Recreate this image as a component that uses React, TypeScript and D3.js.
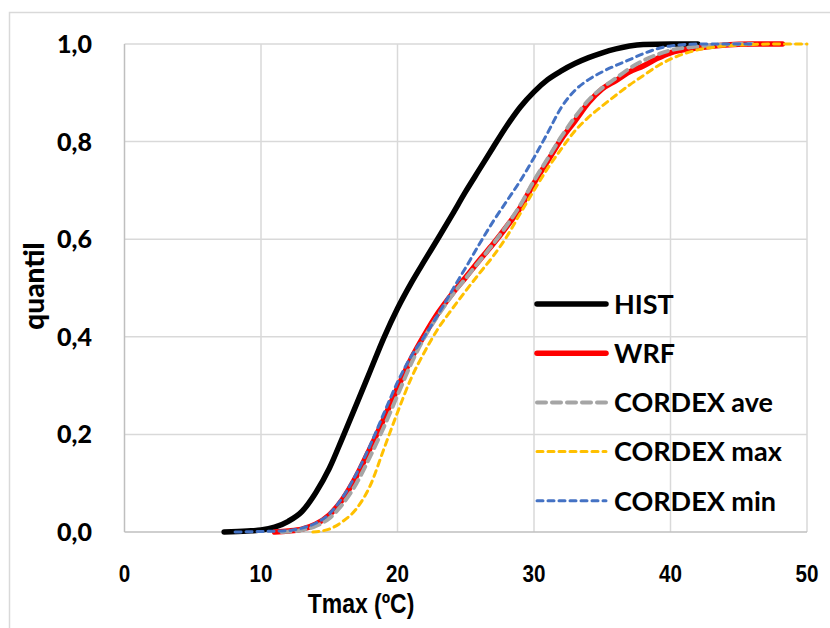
import React, { useEffect, useRef } from "react";
import * as d3 from "d3";

const xTicks = [0, 10, 20, 30, 40, 50];
const yTicks = [0, 0.2, 0.4, 0.6, 0.8, 1.0];

const histT = [7.3, 9, 10, 11, 12, 13, 14, 15, 16, 17, 18, 19, 20, 21, 22, 23, 24, 25, 26, 27, 28, 29, 30, 31, 32, 33, 34, 35, 36, 37, 38, 40, 42];
const histQ = [0, 0.002, 0.004, 0.01, 0.022, 0.042, 0.08, 0.13, 0.195, 0.262, 0.33, 0.398, 0.458, 0.51, 0.557, 0.603, 0.65, 0.698, 0.743, 0.788, 0.832, 0.871, 0.902, 0.927, 0.945, 0.96, 0.972, 0.982, 0.99, 0.996, 0.999, 1, 1];

const wrfT = [11, 12, 13, 14, 15, 16, 17, 18, 19, 20, 21, 22, 23, 24, 25, 26, 27, 28, 29, 30, 31, 32, 33, 34, 35, 36, 37, 38, 39, 40, 42, 44, 46, 48.2];
const wrfQ = [0, 0.002, 0.006, 0.016, 0.035, 0.068, 0.115, 0.172, 0.232, 0.295, 0.355, 0.405, 0.45, 0.488, 0.522, 0.557, 0.59, 0.626, 0.665, 0.715, 0.76, 0.805, 0.842, 0.88, 0.908, 0.925, 0.943, 0.955, 0.97, 0.982, 0.992, 0.998, 1, 1];

const aveT = [11.5, 13, 14, 15, 16, 17, 18, 19, 20, 21, 22, 23, 24, 25, 26, 27, 28, 29, 30, 31, 32, 33, 34, 35, 36, 37, 38, 39, 40, 42, 44, 46];
const aveQ = [0, 0.004, 0.012, 0.028, 0.058, 0.1, 0.155, 0.215, 0.28, 0.345, 0.4, 0.445, 0.485, 0.52, 0.555, 0.59, 0.628, 0.67, 0.72, 0.765, 0.81, 0.85, 0.885, 0.91, 0.93, 0.95, 0.966, 0.978, 0.987, 0.995, 0.999, 1];

const maxT = [13.8, 15, 16, 17, 18, 19, 20, 21, 22, 23, 24, 25, 26, 27, 28, 29, 30, 31, 32, 33, 34, 35, 36, 37, 38, 39, 40, 41, 42, 44, 46, 48, 50];
const maxQ = [0, 0.006, 0.022, 0.048, 0.095, 0.17, 0.245, 0.315, 0.37, 0.418, 0.457, 0.494, 0.53, 0.565, 0.605, 0.653, 0.7, 0.745, 0.785, 0.822, 0.85, 0.873, 0.895, 0.916, 0.935, 0.954, 0.969, 0.98, 0.988, 0.996, 0.999, 1, 1];

const minT = [8.1, 10, 12, 13, 14, 15, 16, 17, 18, 19, 20, 21, 22, 23, 24, 25, 26, 27, 28, 29, 30, 31, 32, 33, 34, 35, 36, 37, 38, 39, 40, 42, 46];
const minQ = [0, 0.001, 0.003, 0.008, 0.018, 0.037, 0.072, 0.12, 0.178, 0.243, 0.307, 0.36, 0.402, 0.447, 0.495, 0.542, 0.59, 0.636, 0.678, 0.72, 0.767, 0.818, 0.87, 0.905, 0.927, 0.943, 0.956, 0.968, 0.98, 0.99, 0.996, 1, 1];

const seriesNames = ["HIST", "WRF", "CORDEX ave", "CORDEX max", "CORDEX min"];

export default function App() {
  const ref = useRef<SVGSVGElement>(null);
  useEffect(() => {
    const svg = d3.select(ref.current);
    svg.selectAll("*").remove();
    const x = d3.scaleLinear().domain([0, 50]).range([124.5, 807]);
    const y = d3.scaleLinear().domain([0, 1]).range([532, 44]);

    svg.append("rect").attr("x", 9.5).attr("y", 12.5).attr("width", 830).attr("height", 640)
      .attr("fill", "white").attr("stroke", "#D9D9D9").attr("stroke-width", 1.5);

    const g = svg.append("g");
    g.selectAll(".vg").data(xTicks.filter(t => t > 0)).enter().append("line")
      .attr("x1", d => x(d)).attr("x2", d => x(d)).attr("y1", y(1)).attr("y2", y(0))
      .attr("stroke", "#D9D9D9").attr("stroke-width", 1.5);
    g.selectAll(".hg").data(yTicks.filter(t => t > 0)).enter().append("line")
      .attr("x1", x(0)).attr("x2", x(50)).attr("y1", d => y(d)).attr("y2", d => y(d))
      .attr("stroke", "#D9D9D9").attr("stroke-width", 1.5);
    g.append("line").attr("x1", x(0)).attr("x2", x(0)).attr("y1", y(1)).attr("y2", y(0))
      .attr("stroke", "#BFBFBF").attr("stroke-width", 1.5);
    g.append("line").attr("x1", x(0)).attr("x2", x(50)).attr("y1", y(0)).attr("y2", y(0))
      .attr("stroke", "#BFBFBF").attr("stroke-width", 1.5);

    const fmt = (v: number) => v.toFixed(1).replace(".", ",");
    g.selectAll(".yt").data(yTicks).enter().append("text")
      .attr("x", 92).attr("y", d => y(d)).attr("dy", "0.36em")
      .attr("text-anchor", "end").attr("font-family", "Lato, 'Open Sans', sans-serif")
      .attr("font-weight", 900).attr("font-size", 25).attr("fill", "#000").text(d => fmt(d));
    g.selectAll(".xt").data(xTicks).enter().append("text")
      .attr("transform", d => `translate(${x(d)},582) scale(0.86,1)`)
      .attr("text-anchor", "middle").attr("font-family", "'Liberation Sans', Arial, sans-serif")
      .attr("font-weight", "bold").attr("font-size", 24).attr("fill", "#000").text(d => String(d));
    g.append("text").attr("transform", "translate(361,613) scale(0.82,1)").attr("text-anchor", "middle")
      .attr("font-family", "'Liberation Sans', Arial, sans-serif").attr("font-weight", "bold")
      .attr("font-size", 28).text("Tmax (ºC)");
    g.append("text").attr("transform", `translate(44,286) rotate(-90)`).attr("text-anchor", "middle")
      .attr("font-family", "Lato, 'Open Sans', sans-serif").attr("font-weight", 900)
      .attr("font-size", 28).text("quantil");

    const line = d3.line<[number, number]>().x(d => x(d[0])).y(d => y(d[1])).curve(d3.curveMonotoneX);
    const zipD = (a: number[], b: number[]) => a.map((v, i) => [v, b[i]] as [number, number]);

    const series = [
      { name: seriesNames[0], data: zipD(histT, histQ), color: "#000000", w: 5.5, dash: null as string | null },
      { name: seriesNames[1], data: zipD(wrfT, wrfQ), color: "#FF0000", w: 5.5, dash: null },
      { name: seriesNames[2], data: zipD(aveT, aveQ), color: "#A5A5A5", w: 4, dash: "9,6" },
      { name: seriesNames[3], data: zipD(maxT, maxQ), color: "#FFC000", w: 3, dash: "6,5" },
      { name: seriesNames[4], data: zipD(minT, minQ), color: "#4472C4", w: 3, dash: "6,5" },
    ];
    series.forEach(s => {
      const p = g.append("path").attr("d", line(s.data) as string).attr("fill", "none")
        .attr("stroke", s.color).attr("stroke-width", s.w).attr("stroke-linecap", "round")
        .attr("stroke-linejoin", "round");
      if (s.dash) p.attr("stroke-dasharray", s.dash);
    });

    const ly0 = 304, lstep = 49.2;
    series.forEach((s, i) => {
      const yy = ly0 + i * lstep;
      const l = g.append("line").attr("x1", 537).attr("x2", 606).attr("y1", yy).attr("y2", yy)
        .attr("stroke", s.color).attr("stroke-width", s.w).attr("stroke-linecap", "round");
      if (s.dash) l.attr("stroke-dasharray", s.dash);
      g.append("text").attr("x", 614).attr("y", yy).attr("dy", "0.36em")
        .attr("font-family", "Lato, 'Open Sans', sans-serif").attr("font-weight", "bold")
        .attr("font-size", 27).attr("fill", "#000").text(s.name);
    });
  }, []);
  return (
    <svg ref={ref} width={830} height={628}
      style={{ position: "absolute", left: 0, top: 0, background: "white" }} />
  );
}
